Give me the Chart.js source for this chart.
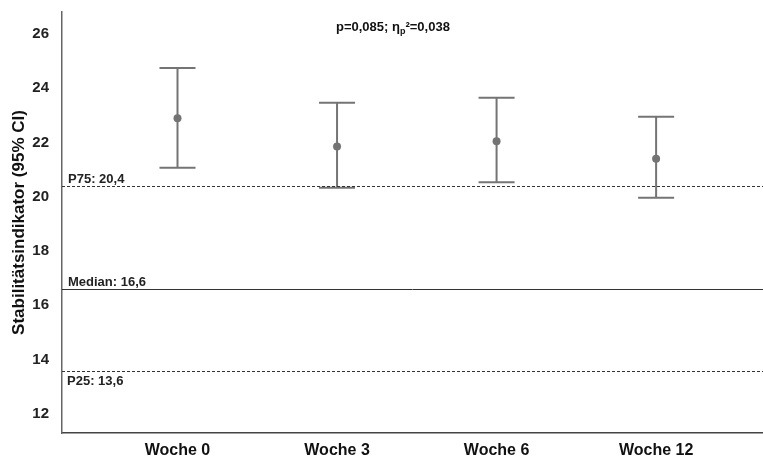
<!DOCTYPE html>
<html>
<head>
<meta charset="utf-8">
<script src="https://cdn.jsdelivr.net/npm/chart.js@4.4.1/dist/chart.umd.min.js"></script>
<style>
  html, body { margin: 0; padding: 0; background: #fff; overflow: hidden; }
  #wrap { width: 763px; height: 458px; }
</style>
</head>
<body>
<div id="wrap"><canvas id="chart-ci"></canvas></div>
<script>
// Data
const weeks = ["Woche 0", "Woche 3", "Woche 6", "Woche 12"];
const means = [22.89, 21.85, 22.04, 21.40];
const ciLower = [21.07, 20.33, 20.53, 19.96];
const ciUpper = [24.74, 23.46, 23.64, 22.94];
const yTicks = [12, 14, 16, 18, 20, 22, 24, 26];
const refValues = [20.4, 16.6, 13.6];
const refLabels = ["P75: 20,4", "Median: 16,6", "P25: 13,6"];

const FONT = "'Liberation Sans', Arial, sans-serif";
const GREY = "#747474";

// whisker stems, one dataset per week
const stems = weeks.map((w, i) => ({
  type: "line",
  data: [{ x: i, y: ciLower[i] }, { x: i, y: ciUpper[i] }],
  borderColor: GREY,
  borderWidth: 2,
  pointRadius: 0,
}));

// reference lines + labels + stat text
const refPlugin = {
  id: "refLines",
  afterDatasetsDraw(chart) {
    const { ctx, chartArea, scales } = chart;
    ctx.save();
    refValues.forEach((v, i) => {
      const y = Math.round(scales.y.getPixelForValue(v)) + 0.5;
      ctx.beginPath();
      ctx.strokeStyle = "#333";
      ctx.lineWidth = 1;
      ctx.setLineDash(i === 1 ? [] : [3, 2]);
      ctx.moveTo(chartArea.left, y);
      ctx.lineTo(chartArea.right, y);
      ctx.stroke();

      ctx.setLineDash([]);
      ctx.fillStyle = "#222";
      ctx.font = "bold 13px " + FONT;
      ctx.textAlign = "left";
      if (i === 2) {
        ctx.textBaseline = "top";
        ctx.fillText(refLabels[i], chartArea.left + 5, y + 3);
      } else {
        ctx.textBaseline = "alphabetic";
        ctx.fillText(refLabels[i], chartArea.left + 6, y - 4);
      }
    });

    // p=0,085; eta_p^2=0,038
    let x = 336;
    const yb = 31;
    ctx.fillStyle = "#111";
    ctx.textBaseline = "alphabetic";
    ctx.font = "bold 13px " + FONT;
    const part1 = "p=0,085; η";
    ctx.fillText(part1, x, yb);
    x += ctx.measureText(part1).width;
    ctx.font = "bold 9px " + FONT;
    ctx.fillText("p", x, yb + 3);
    x += ctx.measureText("p").width;
    ctx.font = "bold 13px " + FONT;
    ctx.fillText("²=0,038", x, yb);
    ctx.restore();
  },
};

const CONFIG = {
  data: {
    datasets: [
      ...stems,
      {
        type: "scatter",
        data: weeks.map((w, i) => ({ x: i, y: ciUpper[i] }))
          .concat(weeks.map((w, i) => ({ x: i, y: ciLower[i] }))),
        pointStyle: "line",
        pointRadius: 18,
        pointBorderWidth: 2,
        borderColor: GREY,
        pointBorderColor: GREY,
      },
      {
        type: "scatter",
        data: weeks.map((w, i) => ({ x: i, y: means[i] })),
        pointRadius: 4,
        pointBackgroundColor: GREY,
        pointBorderColor: GREY,
        pointBorderWidth: 0,
      },
    ],
  },
  options: {
    responsive: true,
    maintainAspectRatio: false,
    animation: false,
    layout: { autoPadding: false, padding: { top: 12, right: 0, left: 0, bottom: 0 } },
    plugins: {
      legend: { display: false },
      tooltip: { enabled: false },
      title: { display: false },
    },
    scales: {
      x: {
        type: "linear",
        min: -0.724,
        max: 3.67,
        grid: { display: false },
        border: { display: true, color: "#444", width: 1.5 },
        afterBuildTicks: (s) => { s.ticks = weeks.map((w, i) => ({ value: i })); },
        afterFit: (s) => {
          s.height = 25;
          s.paddingLeft = 0;
          s.paddingRight = 0;
        },
        ticks: {
          autoSkip: false,
          maxRotation: 0,
          padding: 0,
          color: "#111",
          font: { family: FONT, size: 16, weight: "bold" },
          callback: (v) => weeks[v],
        },
      },
      y: {
        min: 11.3,
        max: 26.8,
        grid: { display: false },
        border: { display: true, color: "#666", width: 1.5 },
        afterBuildTicks: (s) => { s.ticks = yTicks.map((v) => ({ value: v })); },
        afterFit: (s) => {
          s.width = 62;
          s.paddingTop = 0;
          s.paddingBottom = 0;
        },
        ticks: {
          padding: 5,
          color: "#222",
          font: { family: FONT, size: 15, weight: "bold" },
        },
        title: {
          display: true,
          text: "Stabilitätsindikator (95% CI)",
          color: "#111",
          padding: { top: 9, bottom: 0 },
          font: { family: FONT, size: 17, weight: "bold" },
        },
      },
    },
  },
  plugins: [refPlugin],
};

new Chart(document.getElementById("chart-ci"), CONFIG);
</script>
</body>
</html>
